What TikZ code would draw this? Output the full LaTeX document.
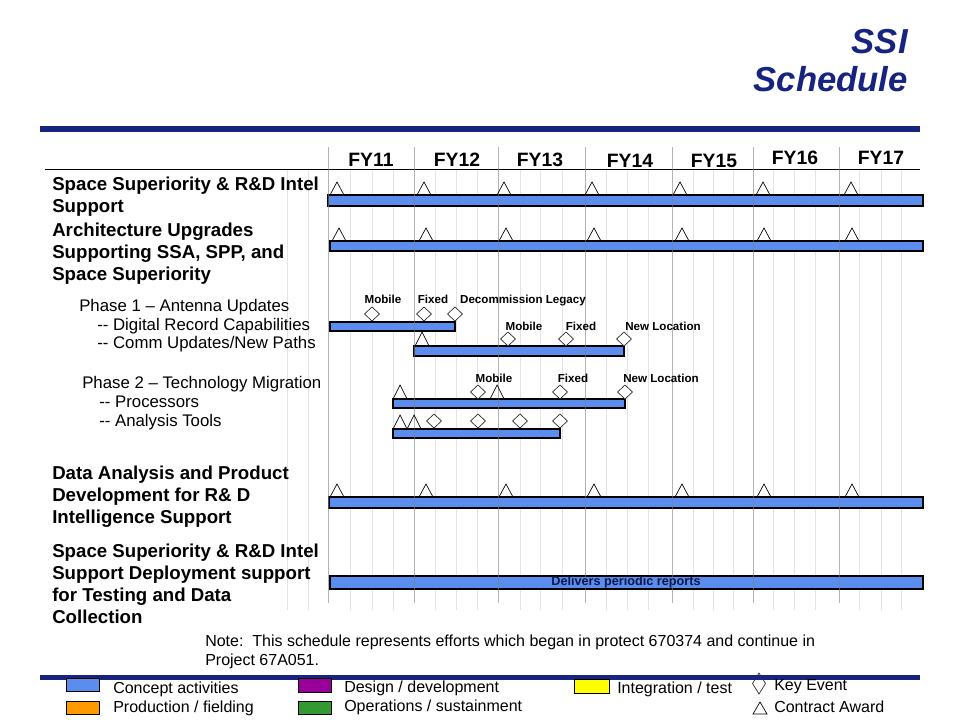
\documentclass[tikz,border=0pt]{standalone}
\usepackage{fontspec}
\setmainfont{Liberation Sans}
\usepackage{tikz}
\definecolor{barblue}{RGB}{90,141,238}
\definecolor{ssinavy}{RGB}{22,36,128}
\definecolor{rptnavy}{RGB}{12,22,72}
\definecolor{legorange}{RGB}{255,153,0}
\definecolor{legpurple}{RGB}{153,0,153}
\definecolor{leggreen}{RGB}{51,153,51}
\definecolor{legyellow}{RGB}{255,255,0}

\begin{document}
\begin{tikzpicture}[x=0.75pt,y=0.75pt,yscale=-1,xscale=1,
  bar/.style={draw=black,line width=0.9pt,fill=barblue},
  award/.style={draw=black,line width=0.5pt},
  keyevt/.style={draw=black!85,line width=0.5pt,fill=white},
  rowlbl/.style={anchor=north west,inner sep=0pt,align=left,font=\fontsize{14}{16.5}\selectfont\bfseries},
  phaselbl/.style={anchor=base west,inner sep=0pt,font=\fontsize{12.6}{14}\selectfont},
  evtlbl/.style={anchor=base,inner sep=0pt,font=\fontsize{8.7}{10}\selectfont\bfseries},
  fylbl/.style={anchor=base,inner sep=0pt,font=\fontsize{14.5}{16}\selectfont\bfseries},
  legbox/.style={draw=black,line width=0.5pt},
  leglbl/.style={anchor=base west,inner sep=0pt,font=\fontsize{12}{13}\selectfont},
  gridlt/.style={draw=gray!22,line width=0.6pt},
  gridyr/.style={draw=gray,line width=0.7pt}]
\path[use as bounding box] (0,0) rectangle (960,720);

% Title
\draw (908,54) node [anchor=base east,inner sep=0pt,text=ssinavy,font=\fontsize{26}{30}\selectfont\bfseries\itshape] (ttlssi) {SSI};
\draw (908,92) node [anchor=base east,inner sep=0pt,text=ssinavy,font=\fontsize{26}{30}\selectfont\bfseries\itshape] (ttlsched) {Schedule};
%Top rule
\draw [ssinavy,line width=4.5pt] (40,129) -- (920,129) ;

%Quarter grid lines
\draw [gridlt] (287,170) -- (287,610) (308,170) -- (308,610)
  (350,170) -- (350,610) (372,170) -- (372,610) (393,170) -- (393,610)
  (435,170) -- (435,610) (456,170) -- (456,610) (477,170) -- (477,610)
  (520,170) -- (520,610) (540,170) -- (540,610) (562,170) -- (562,610)
  (606,170) -- (606,610) (627,170) -- (627,610) (648,170) -- (648,610)
  (693,170) -- (693,610) (713,170) -- (713,610) (733,170) -- (733,610)
  (773,170) -- (773,610) (794,170) -- (794,610) (815,170) -- (815,610)
  (859,170) -- (859,610) (881,170) -- (881,610) (901,170) -- (901,610) ;
%Header line
\draw [black,line width=0.75pt] (45,170) -- (920,170) ;

% FY labels
\draw (371,167) node [fylbl] (fy11) {FY11};
\draw (457,167) node [fylbl] (fy12) {FY12};
\draw (540,167) node [fylbl] (fy13) {FY13};
\draw (630,168) node [fylbl] (fy14) {FY14};
\draw (714,168) node [fylbl] (fy15) {FY15};
\draw (795,165) node [fylbl] (fy16) {FY16};
\draw (881,165) node [fylbl] (fy17) {FY17};

% Row labels
\draw (52,177) node [rowlbl] (lblintel) {Space Superiority \& R\&D Intel\\Support};
\draw (52,223) node [rowlbl] (lblarch) {Architecture Upgrades\\Supporting SSA, SPP, and\\Space Superiority};
\draw (79,311) node [phaselbl] (lblph1) {Phase 1 – Antenna Updates};
\draw (97,330) node [phaselbl] (lbldig) {-{}- Digital Record Capabilities};
\draw (97,349) node [phaselbl] (lblcomm) {-{}- Comm Updates/New Paths};
\draw (82,388) node [phaselbl] (lblph2) {Phase 2 – Technology Migration};
\draw (99,407) node [phaselbl] (lblproc) {-{}- Processors};
\draw (99,426) node [phaselbl] (lbltools) {-{}- Analysis Tools};
\draw (52,466) node [rowlbl] (lbldata) {Data Analysis and Product\\Development for R\& D\\Intelligence Support};
\draw (52,544) node [rowlbl] (lbldeploy) {Space Superiority \& R\&D Intel\\Support Deployment support\\for Testing and Data\\Collection};

%Bars
\draw [bar] (328,195) rectangle (923,206) ;
\draw [bar] (330,241) rectangle (923,251) ;
\draw [bar] (330,322) rectangle (455,331) ;
\draw [bar] (414,346) rectangle (624,356) ;
\draw [bar] (393,399) rectangle (625,408) ;
\draw [bar] (393,429) rectangle (560,438) ;
\draw [bar] (329,497) rectangle (923,508) ;
\draw [bar] (330,576) rectangle (923,589) ;

%Year lines
\draw [gridyr,draw opacity=0.6] (328,147) -- (328,603) (414,147) -- (414,603) (498,147) -- (498,603)
  (585,147) -- (585,603) (672,147) -- (672,603) (753,147) -- (753,603) (839,147) -- (839,603) ;
\draw (626,582) node [inner sep=0pt,text=rptnavy,font=\fontsize{9.5}{11}\selectfont\bfseries] (rpt) {Delivers periodic reports};

%Contract awards
\draw [award] (337,182) -- ++(-7,13) -- ++(14,0) -- cycle (424,182) -- ++(-7,13) -- ++(14,0) -- cycle
  (504,182) -- ++(-7,13) -- ++(14,0) -- cycle (592,182) -- ++(-7,13) -- ++(14,0) -- cycle
  (680,182) -- ++(-7,13) -- ++(14,0) -- cycle (763,182) -- ++(-7,13) -- ++(14,0) -- cycle
  (851,182) -- ++(-7,13) -- ++(14,0) -- cycle ;
\draw [award] (339,228) -- ++(-7,13) -- ++(14,0) -- cycle (426,228) -- ++(-7,13) -- ++(14,0) -- cycle
  (506,228) -- ++(-7,13) -- ++(14,0) -- cycle (594,228) -- ++(-7,13) -- ++(14,0) -- cycle
  (682,228) -- ++(-7,13) -- ++(14,0) -- cycle (764,228) -- ++(-7,13) -- ++(14,0) -- cycle
  (852,228) -- ++(-7,13) -- ++(14,0) -- cycle ;
\draw [award] (337,484) -- ++(-7,13) -- ++(14,0) -- cycle (426,484) -- ++(-7,13) -- ++(14,0) -- cycle
  (506,484) -- ++(-7,13) -- ++(14,0) -- cycle (594,484) -- ++(-7,13) -- ++(14,0) -- cycle
  (682,484) -- ++(-7,13) -- ++(14,0) -- cycle (764,484) -- ++(-7,13) -- ++(14,0) -- cycle
  (852,484) -- ++(-7,13) -- ++(14,0) -- cycle ;
\draw [award] (422,332) -- ++(-7,14) -- ++(14,0) -- cycle ;
\draw [award] (400,385) -- ++(-7,14) -- ++(14,0) -- cycle (497,385) -- ++(-7,14) -- ++(14,0) -- cycle ;
\draw [award] (400,415) -- ++(-7,14) -- ++(14,0) -- cycle (414,415) -- ++(-7,14) -- ++(14,0) -- cycle ;

%Key events
\draw [keyevt] (372,307) -- ++(7.5,7) -- ++(-7.5,7) -- ++(-7.5,-7) -- cycle
  (424,307) -- ++(7.5,7) -- ++(-7.5,7) -- ++(-7.5,-7) -- cycle
  (455,307) -- ++(7.5,7) -- ++(-7.5,7) -- ++(-7.5,-7) -- cycle ;
\draw [keyevt] (508,332) -- ++(7.5,7) -- ++(-7.5,7) -- ++(-7.5,-7) -- cycle
  (566,332) -- ++(7.5,7) -- ++(-7.5,7) -- ++(-7.5,-7) -- cycle
  (624,332) -- ++(7.5,7) -- ++(-7.5,7) -- ++(-7.5,-7) -- cycle ;
\draw [keyevt] (478,385) -- ++(7.5,7) -- ++(-7.5,7) -- ++(-7.5,-7) -- cycle
  (560,385) -- ++(7.5,7) -- ++(-7.5,7) -- ++(-7.5,-7) -- cycle
  (625,385) -- ++(7.5,7) -- ++(-7.5,7) -- ++(-7.5,-7) -- cycle ;
\draw [keyevt] (434,414) -- ++(7.5,7) -- ++(-7.5,7) -- ++(-7.5,-7) -- cycle
  (478,414) -- ++(7.5,7) -- ++(-7.5,7) -- ++(-7.5,-7) -- cycle
  (520,414) -- ++(7.5,7) -- ++(-7.5,7) -- ++(-7.5,-7) -- cycle
  (560,414) -- ++(7.5,7) -- ++(-7.5,7) -- ++(-7.5,-7) -- cycle ;

% Event labels
\draw (383,304) node [evtlbl] (evmob1) {Mobile};
\draw (433,304) node [evtlbl] (evfix1) {Fixed};
\draw (523,304) node [evtlbl] (evdec1) {Decommission Legacy};
\draw (524,330) node [evtlbl] (evmob2) {Mobile};
\draw (581,330) node [evtlbl] (evfix2) {Fixed};
\draw (663,330) node [evtlbl] (evnew2) {New Location};
\draw (494,382) node [evtlbl] (evmob3) {Mobile};
\draw (573,382) node [evtlbl] (evfix3) {Fixed};
\draw (661,382) node [evtlbl] (evnew3) {New Location};

% Note
\draw (205,635) node [anchor=north west,inner sep=0pt,align=left,font=\fontsize{12}{14.25}\selectfont] (note) {Note:\ \ This schedule represents efforts which began in protect 670374 and continue in\\Project 67A051.};

%Legend key event mark
\draw [draw=black!85,line width=0.5pt] (759,673) -- ++(6.5,10.5) -- ++(-6.5,10.5) -- ++(-6.5,-10.5) -- cycle ;
%Bottom rule
\draw [ssinavy,line width=3.75pt] (40,677.5) -- (920,677.5) ;

%Legend
\draw [legbox,fill=barblue] (66,678) rectangle (99,691) ;
\draw [legbox,fill=legorange] (66,701) rectangle (99,714) ;
\draw [legbox,fill=legpurple] (298,678) rectangle (331,692) ;
\draw [legbox,fill=leggreen] (298,701) rectangle (331,714) ;
\draw [legbox,fill=legyellow] (574,679) rectangle (609,693) ;
\draw [award] (760,702) -- ++(-7,12) -- ++(14,0) -- cycle ;
\draw (113,693) node [leglbl] (legcon) {Concept activities};
\draw (113,712) node [leglbl] (legprod) {Production / fielding};
\draw (344,692) node [leglbl] (legdes) {Design / development};
\draw (344,711) node [leglbl] (legops) {Operations / sustainment};
\draw (617,693) node [leglbl] (legint) {Integration / test};
\draw (774,690) node [leglbl] (legkey) {Key Event};
\draw (774,712) node [leglbl] (legaward) {Contract Award};

\end{tikzpicture}
\end{document}
